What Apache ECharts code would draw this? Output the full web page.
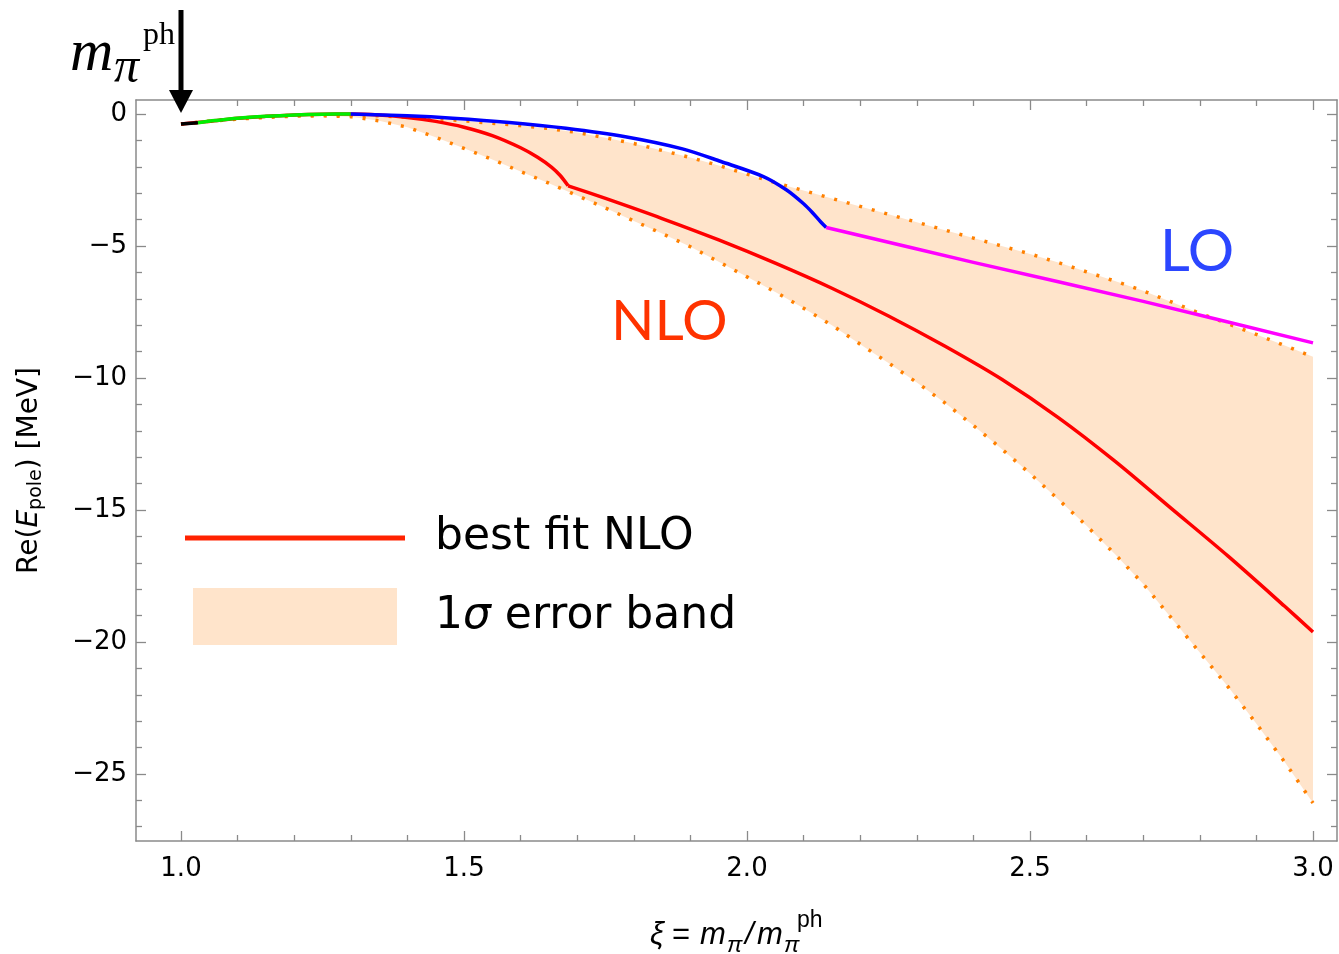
<!DOCTYPE html>
<html><head><meta charset="utf-8">
<script src="https://cdn.jsdelivr.net/npm/echarts@6/dist/echarts.min.js"></script>
<style>html,body{margin:0;padding:0;background:#fff}#c{width:1339px;height:954px}</style>
</head><body><div id="c"></div>
<script>
// ---- axis ranges and ticks ----
const X_RANGE = [0.9205, 3.0424];
const Y_RANGE = [-27.54, 0.53];
const X_MAJOR = [1.0, 1.5, 2.0, 2.5, 3.0];
const X_MINOR = [1.1, 1.2, 1.3, 1.4, 1.6, 1.7, 1.8, 1.9, 2.1, 2.2, 2.3, 2.4, 2.6, 2.7, 2.8, 2.9];
const Y_MAJOR = [0, -5, -10, -15, -20, -25];
const Y_MINOR = [-1, -2, -3, -4, -6, -7, -8, -9, -11, -12, -13, -14, -16, -17, -18, -19, -21, -22, -23, -24, -26, -27];

// ---- curves ----
const BLACK_X = [1.0, 1.03];
const BLACK_Y = [-0.38, -0.33];
const GREEN_X = [1.03, 1.06, 1.1, 1.15, 1.2, 1.25, 1.3];
const GREEN_Y = [-0.33, -0.25, -0.16, -0.09, -0.04, -0.01, 0];
const BLUE_X = [1.3, 1.4, 1.48, 1.58, 1.68, 1.785, 1.886, 1.954, 2.029, 2.07, 2.1, 2.115, 2.13, 2.14];
const BLUE_Y = [0, -0.07, -0.16, -0.32, -0.54, -0.86, -1.32, -1.8, -2.37, -2.88, -3.4, -3.72, -4.08, -4.3];
const MAGENTA_X = [2.14, 2.4, 2.7, 3.0];
const MAGENTA_Y = [-4.3, -5.62, -7.1, -8.67];
// best fit NLO, before and after its kink at xi ~ 1.684
const RED_A_X = [1.0, 1.05, 1.1, 1.15, 1.2, 1.25, 1.3, 1.35, 1.4, 1.45, 1.5, 1.55, 1.6, 1.63, 1.655, 1.67, 1.684];
const RED_A_Y = [-0.38, -0.28, -0.16, -0.09, -0.04, -0.01, 0, -0.04, -0.13, -0.28, -0.5, -0.82, -1.28, -1.64, -2.02, -2.33, -2.72];
const RED_B_X = [1.684, 1.75, 1.85, 1.95, 2.05, 2.15, 2.25, 2.35, 2.45, 2.55, 2.65, 2.75, 2.85, 2.95, 3.0];
const RED_B_Y = [-2.72, -3.2, -3.96, -4.77, -5.65, -6.6, -7.65, -8.8, -10.05, -11.5, -13.15, -14.95, -16.75, -18.65, -19.62];

// ---- 1 sigma band ----
const BAND_X = [1.0, 1.05, 1.1, 1.15, 1.2, 1.25, 1.3, 1.35, 1.4, 1.45, 1.5, 1.55, 1.6, 1.65, 1.7, 1.75, 1.8, 1.85, 1.9, 1.95,
  2.0, 2.05, 2.1, 2.15, 2.2, 2.25, 2.3, 2.35, 2.4, 2.45, 2.5, 2.55, 2.6, 2.65, 2.7, 2.75, 2.8, 2.85, 2.9, 2.95, 3.0];
const BAND_UPPER = [-0.38, -0.27, -0.17, -0.1, -0.05, -0.03, -0.04, -0.07, -0.12, -0.18, -0.26, -0.35, -0.44, -0.55, -0.7, -0.9, -1.12, -1.38, -1.65, -1.95,
  -2.28, -2.6, -2.9, -3.2, -3.5, -3.8, -4.1, -4.4, -4.7, -5.0, -5.3, -5.63, -5.98, -6.33, -6.7, -7.12, -7.55, -7.95, -8.35, -8.77, -9.2];
const BAND_LOWER = [-0.38, -0.28, -0.19, -0.13, -0.08, -0.07, -0.1, -0.26, -0.5, -0.88, -1.3, -1.72, -2.18, -2.62, -3.09, -3.56, -4.05, -4.53, -5.03, -5.6,
  -6.17, -6.74, -7.36, -8.0, -8.72, -9.43, -10.17, -10.95, -11.8, -12.69, -13.62, -14.6, -15.6, -16.67, -17.8, -19.1, -20.4, -21.7, -23.1, -24.55, -26.1];

const ARROW_AT = [1.0, 0];

const FRAME = '#8a8a8a';
const BAND_COLOR = '#FFE4CB';
const DOT_COLOR = '#FF8000';
const TICK_FONT = 'DejaVu Sans';

const zip = (xs, ys) => xs.map((x, i) => [x, ys[i]]);
const fmt = v => (v < 0 ? '\u2212' + Math.abs(v) : String(v));

function xAx(position, ticks, len, withLine, withLabels) {
  return {
    type: 'value', position, min: X_RANGE[0], max: X_RANGE[1],
    axisLine: { show: withLine, onZero: false, lineStyle: { color: FRAME, width: 1.5 } },
    axisTick: { show: true, inside: true, length: len, customValues: ticks, lineStyle: { color: FRAME, width: 1.3 } },
    axisLabel: withLabels ? { show: true, customValues: ticks, formatter: v => Number(v).toFixed(1),
      fontFamily: TICK_FONT, fontSize: 26, color: '#000', margin: 15 } : { show: false },
    splitLine: { show: false }, minorTick: { show: false }
  };
}
function yAx(position, ticks, len, withLine, withLabels, extra) {
  return Object.assign({
    type: 'value', position, min: Y_RANGE[0], max: Y_RANGE[1],
    axisLine: { show: withLine, onZero: false, lineStyle: { color: FRAME, width: 1.5 } },
    axisTick: { show: true, inside: true, length: len, customValues: ticks, lineStyle: { color: FRAME, width: 1.3 } },
    axisLabel: withLabels ? { show: true, customValues: ticks, formatter: v => fmt(v),
      fontFamily: TICK_FONT, fontSize: 26, color: '#000', margin: 9 } : { show: false },
    splitLine: { show: false }, minorTick: { show: false }
  }, extra || {});
}

const chart = echarts.init(document.getElementById('c'), null, { renderer: 'canvas' });

function lineSeries(name, xs, ys, color, width, z, extra) {
  return Object.assign({
    name, type: 'line', data: zip(xs, ys), xAxisIndex: 0, yAxisIndex: 0,
    showSymbol: false, symbol: 'none', silent: true, z, clip: true,
    lineStyle: { color, width, cap: 'butt', join: 'round' }, itemStyle: { color }
  }, extra || {});
}
const SMOOTH = { smooth: 0.3 };

const option = {
  animation: false,
  backgroundColor: '#ffffff',
  grid: { left: 136, right: 2, top: 100, bottom: 113, containLabel: false },
  xAxis: [
    xAx('bottom', X_MAJOR, 10, true, true),
    xAx('bottom', X_MINOR, 6, false, false),
    xAx('top', X_MAJOR, 10, true, false),
    xAx('top', X_MINOR, 6, false, false)
  ],
  yAxis: [
    yAx('left', Y_MAJOR, 10, true, true, {
      name: '{n|Re(}{e|E}{s|pole}{n|) [MeV]}',
      nameLocation: 'middle', nameRotate: 90, nameGap: 90,
      nameTextStyle: { color: '#000', rich: {
        n: { fontFamily: TICK_FONT, fontSize: 28, color: '#000' },
        e: { fontFamily: TICK_FONT, fontSize: 28, fontStyle: 'italic', color: '#000' },
        s: { fontFamily: TICK_FONT, fontSize: 19, color: '#000', padding: [13, 0, 0, 0] }
      } }
    }),
    yAx('left', Y_MINOR, 6, false, false),
    yAx('right', Y_MAJOR, 10, true, false),
    yAx('right', Y_MINOR, 6, false, false)
  ],
  legend: [
    { data: [{ name: 'best fit NLO', icon: 'rect', itemStyle: { color: '#FF2200' } }],
      left: 185, top: 513, padding: 0, itemWidth: 220, itemHeight: 5, selectedMode: false,
      textStyle: { fontFamily: TICK_FONT, fontSize: 44, color: '#000', lineHeight: 50, padding: [0, 0, 0, 25] } },
    { data: [{ name: '1σ error band', icon: 'rect', itemStyle: { color: BAND_COLOR } }],
      left: 193, top: 588, padding: 0, itemWidth: 204, itemHeight: 57, selectedMode: false,
      formatter: () => '{n|1}{i|σ}{n| error band}',
      textStyle: { fontFamily: TICK_FONT, fontSize: 44, color: '#000', lineHeight: 50, padding: [0, 0, 0, 33],
        rich: { n: { fontFamily: TICK_FONT, fontSize: 44, color: '#000' },
                i: { fontFamily: TICK_FONT, fontSize: 44, fontStyle: 'italic', color: '#000' } } } }
  ],
  series: [
    {
      name: '1σ error band', type: 'custom', xAxisIndex: 0, yAxisIndex: 0, z: 1, silent: true, clip: true,
      itemStyle: { color: BAND_COLOR },
      data: [[BAND_X[0], BAND_UPPER[0]]],
      renderItem: function (params, api) {
        const pts = [];
        for (let i = 0; i < BAND_X.length; i++) pts.push(api.coord([BAND_X[i], BAND_UPPER[i]]));
        for (let i = BAND_X.length - 1; i >= 0; i--) pts.push(api.coord([BAND_X[i], BAND_LOWER[i]]));
        return { type: 'polygon', shape: { points: pts }, style: { fill: BAND_COLOR, stroke: null } };
      }
    },
    lineSeries('band upper', BAND_X, BAND_UPPER, DOT_COLOR, 3.5, 2, { lineStyle: { color: DOT_COLOR, width: 3.5, type: [3, 10], cap: 'butt' } }),
    lineSeries('band lower', BAND_X, BAND_LOWER, DOT_COLOR, 3.5, 2, { lineStyle: { color: DOT_COLOR, width: 3.5, type: [3, 10], cap: 'butt' } }),
    lineSeries('best fit NLO', RED_A_X, RED_A_Y, '#FF0000', 3.5, 3, SMOOTH),
    lineSeries('best fit NLO', RED_B_X, RED_B_Y, '#FF0000', 3.5, 3, SMOOTH),
    lineSeries('LO (black)', BLACK_X, BLACK_Y, '#000000', 3.5, 4),
    lineSeries('LO (green)', GREEN_X, GREEN_Y, '#00EE00', 3.5, 4, SMOOTH),
    lineSeries('LO (blue)', BLUE_X, BLUE_Y, '#0000FF', 3.5, 4, SMOOTH),
    lineSeries('LO (magenta)', MAGENTA_X, MAGENTA_Y, '#FF00FF', 3.5, 4, SMOOTH)
  ]
};
chart.setOption(option);

// annotations placed through the chart's own coordinate conversion
const tip = chart.convertToPixel({ gridIndex: 0 }, ARROW_AT);
const ax = tip[0], ay = tip[1];
const serif = 'Liberation Serif';
const xt = 'Liberation Sans';
function txt(x, y, s, font, size, opts) {
  return Object.assign({ type: 'text', x, y, silent: true, z: 100,
    style: Object.assign({ text: s, fontFamily: font, fontSize: size, fill: '#000', verticalAlign: 'bottom', align: 'left' }, (opts || {})) });
}
chart.setOption({
  graphic: [
    { type: 'line', silent: true, z: 100, shape: { x1: ax, y1: 10, x2: ax, y2: ay - 20 }, style: { stroke: '#000', lineWidth: 5 } },
    { type: 'polygon', silent: true, z: 100, shape: { points: [[ax - 12, ay - 24], [ax + 12, ay - 24], [ax, ay - 1]] }, style: { fill: '#000' } },
    txt(70, 84, 'm', serif, 60, { fontStyle: 'italic' }),
    txt(114, 94, 'π', serif, 50, { fontStyle: 'italic' }),
    txt(143, 52, 'ph', serif, 32),
    txt(611, 350, 'NLO', 'Lato', 57, { fill: '#FF3300' }),
    txt(1160, 281, 'LO', 'Lato', 58, { fill: '#2B46FF' }),
    txt(650, 951, 'ξ', xt, 31, { fontStyle: 'italic' }),
    txt(672, 951, '=', xt, 31),
    txt(700, 951, 'm', xt, 31, { fontStyle: 'italic' }),
    txt(727, 957, 'π', xt, 23, { fontStyle: 'italic' }),
    txt(745, 951, '/', xt, 31, { fontStyle: 'italic' }),
    txt(757, 951, 'm', xt, 31, { fontStyle: 'italic' }),
    txt(784, 957, 'π', xt, 23, { fontStyle: 'italic' }),
    txt(797, 932, 'ph', xt, 23)
  ]
});
</script></body></html>
